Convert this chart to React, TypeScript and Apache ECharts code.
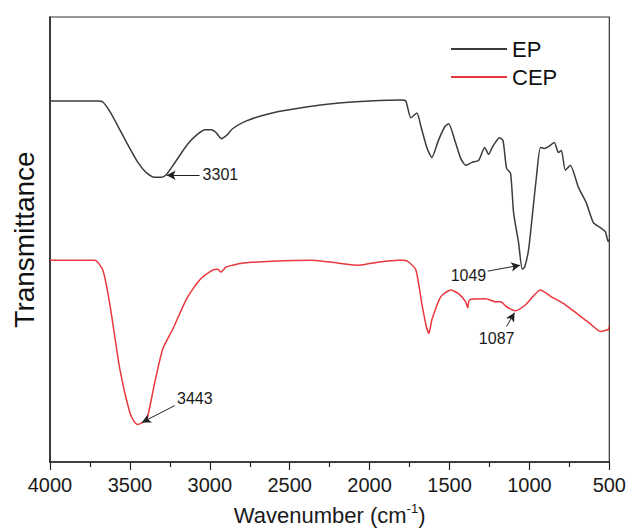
import React, { useEffect, useRef } from "react";
import * as echarts from "echarts";

// Wavenumber (cm-1) and transmittance (arbitrary units)
const epWavenumber = [4000, 3900, 3800, 3700, 3669, 3620, 3560, 3500, 3450, 3400, 3350, 3300, 3270, 3230, 3180, 3130, 3080, 3030, 2989, 2960, 2927, 2890, 2858, 2771, 2609, 2397, 2191, 2000, 1800, 1773, 1742, 1704, 1680, 1640, 1611, 1570, 1530, 1505, 1470, 1430, 1399, 1360, 1318, 1280, 1255, 1230, 1187, 1165, 1143, 1118, 1099, 1068, 1045, 1030, 1005, 980, 955, 931, 905, 880, 844, 819, 800, 775, 744, 694, 644, 600, 556, 525, 507, 500];
const epValue = [365, 365, 365, 365, 364, 353, 335, 317, 303, 293, 288, 288, 291, 300, 312, 323, 331, 336, 336, 333, 327, 331, 337, 345, 353, 359, 363, 365, 366, 365, 348, 353, 340, 317, 308, 325, 339, 342, 327, 307, 300, 303, 305, 318, 311, 319, 328, 325, 297, 292, 252, 222, 195, 197, 215, 252, 290, 318, 317, 319, 323, 313, 315, 295, 300, 278, 262, 242, 237, 233, 223, 225];

const cepWavenumber = [4000, 3900, 3800, 3719, 3669, 3626, 3563, 3501, 3470, 3451, 3420, 3395, 3345, 3295, 3233, 3145, 3064, 2983, 2950, 2930, 2900, 2858, 2800, 2609, 2359, 2191, 2066, 1950, 1817, 1785, 1754, 1710, 1673, 1645, 1629, 1610, 1555, 1492, 1442, 1399, 1386, 1375, 1274, 1211, 1180, 1143, 1087, 1024, 931, 862, 775, 694, 613, 556, 507, 500];
const cepValue = [204, 204, 204, 204, 194, 160, 94, 50, 40, 38, 40, 42, 80, 114, 134, 165, 184, 194, 195, 192, 197, 199, 201, 203, 204, 201, 199, 202, 204, 204, 202, 194, 160, 137, 130, 144, 167, 174, 170, 162, 156, 164, 165, 162, 162, 157, 153, 159, 174, 167, 159, 149, 139, 132, 134, 137];

const seriesNames = ["EP", "CEP"];
const xTicks = { min: 500, max: 4000, interval: 500 };

// Peak annotations: label text, label anchor, arrow start, arrow end (wavenumber, value)
const annoText = ["3301", "3443", "1049", "1087"];
const annoLabelAt = [[3045, 291], [3205, 64], [1270, 189], [1205, 125]];
const annoArrowFrom = [[3064, 290], [3220, 57], [1261, 193], [1143, 137]];
const annoArrowTo = [[3270, 290], [3425, 40], [1058, 199], [1093, 151]];
const annoAlign = ["left", "left", "right", "center"];
const annoSeries = [0, 1, 0, 1];

export default function App() {
  const ref = useRef<HTMLDivElement>(null);
  useEffect(() => {
    if (!ref.current) return;
    const chart = echarts.init(ref.current, undefined, { renderer: "svg" });
    const font = "Arial, 'Liberation Sans', sans-serif";
    const mkData = (xs: number[], ys: number[]) => xs.map((x, i) => [x, ys[i]]);
    const colors = ["#3c3c3c", "#e8383d"];
    const values = [mkData(epWavenumber, epValue), mkData(cepWavenumber, cepValue)];

    const series: any[] = seriesNames.map((name, si) => {
      const idx = annoSeries.map((s, i) => (s === si ? i : -1)).filter((i) => i >= 0);
      return {
        name,
        type: "line",
        data: values[si],
        symbol: "none",
        smooth: 0.2,
        lineStyle: { color: colors[si], width: 1.5 },
        itemStyle: { color: colors[si] },
        markLine: {
          silent: true,
          symbol: ["none", "arrow"],
          symbolSize: [7, 9],
          lineStyle: { color: "#222", width: 1, type: "solid" },
          label: { show: false },
          data: idx.map((i) => [{ coord: annoArrowFrom[i] }, { coord: annoArrowTo[i] }]),
        },
        markPoint: {
          silent: true,
          symbol: "circle",
          symbolSize: 0,
          data: idx.map((i) => ({
            coord: annoLabelAt[i],
            label: {
              show: true,
              formatter: annoText[i],
              position: "inside",
              align: annoAlign[i],
              verticalAlign: "middle",
              color: "#1a1a1a",
              fontSize: 16,
              fontFamily: font,
            },
          })),
        },
      };
    });

    chart.setOption({
      animation: false,
      backgroundColor: "#fff",
      grid: { left: 50, right: 18, top: 17, bottom: 64, show: true, borderColor: "#333", borderWidth: 1.2 },
      legend: {
        orient: "vertical",
        left: 446,
        top: 32,
        itemWidth: 56,
        itemHeight: 2,
        itemGap: 4,
        icon: "rect",
        data: seriesNames,
        textStyle: { fontSize: 22, fontFamily: font, color: "#111", lineHeight: 24 },
      },
      xAxis: {
        type: "value",
        inverse: true,
        min: xTicks.min,
        max: xTicks.max,
        interval: xTicks.interval,
        axisLine: { show: true, lineStyle: { color: "#222", width: 1.5 } },
        axisTick: { show: true, length: 8, lineStyle: { color: "#222", width: 1.2 } },
        minorTick: { show: true, splitNumber: 2, length: 5, lineStyle: { color: "#222", width: 1.2 } },
        splitLine: { show: false },
        axisLabel: { fontSize: 20, fontFamily: font, color: "#1a1a1a", margin: 13, formatter: (v: number) => String(v) },
        name: "{a|Wavenumber (cm}{b|-1}{a|)}",
        nameLocation: "middle",
        nameGap: 40,
        nameTextStyle: {
          rich: {
            a: { fontSize: 22, fontFamily: font, color: "#1a1a1a", lineHeight: 26 },
            b: { fontSize: 13, fontFamily: font, color: "#1a1a1a", verticalAlign: "top", padding: [0, 0, 10, 0], lineHeight: 14 },
          },
        },
      },
      yAxis: {
        type: "value",
        min: 0,
        max: 450,
        axisLine: { show: true, lineStyle: { color: "#222", width: 1.5 } },
        axisTick: { show: false },
        axisLabel: { show: false },
        splitLine: { show: false },
        name: "Transmittance",
        nameLocation: "middle",
        nameGap: 12,
        nameTextStyle: { fontSize: 28, fontFamily: font, color: "#111" },
      },
      series,
    });
    return () => chart.dispose();
  }, []);
  return <div ref={ref} style={{ width: 629, height: 531, position: "absolute", left: 0, top: 0 }} />;
}
